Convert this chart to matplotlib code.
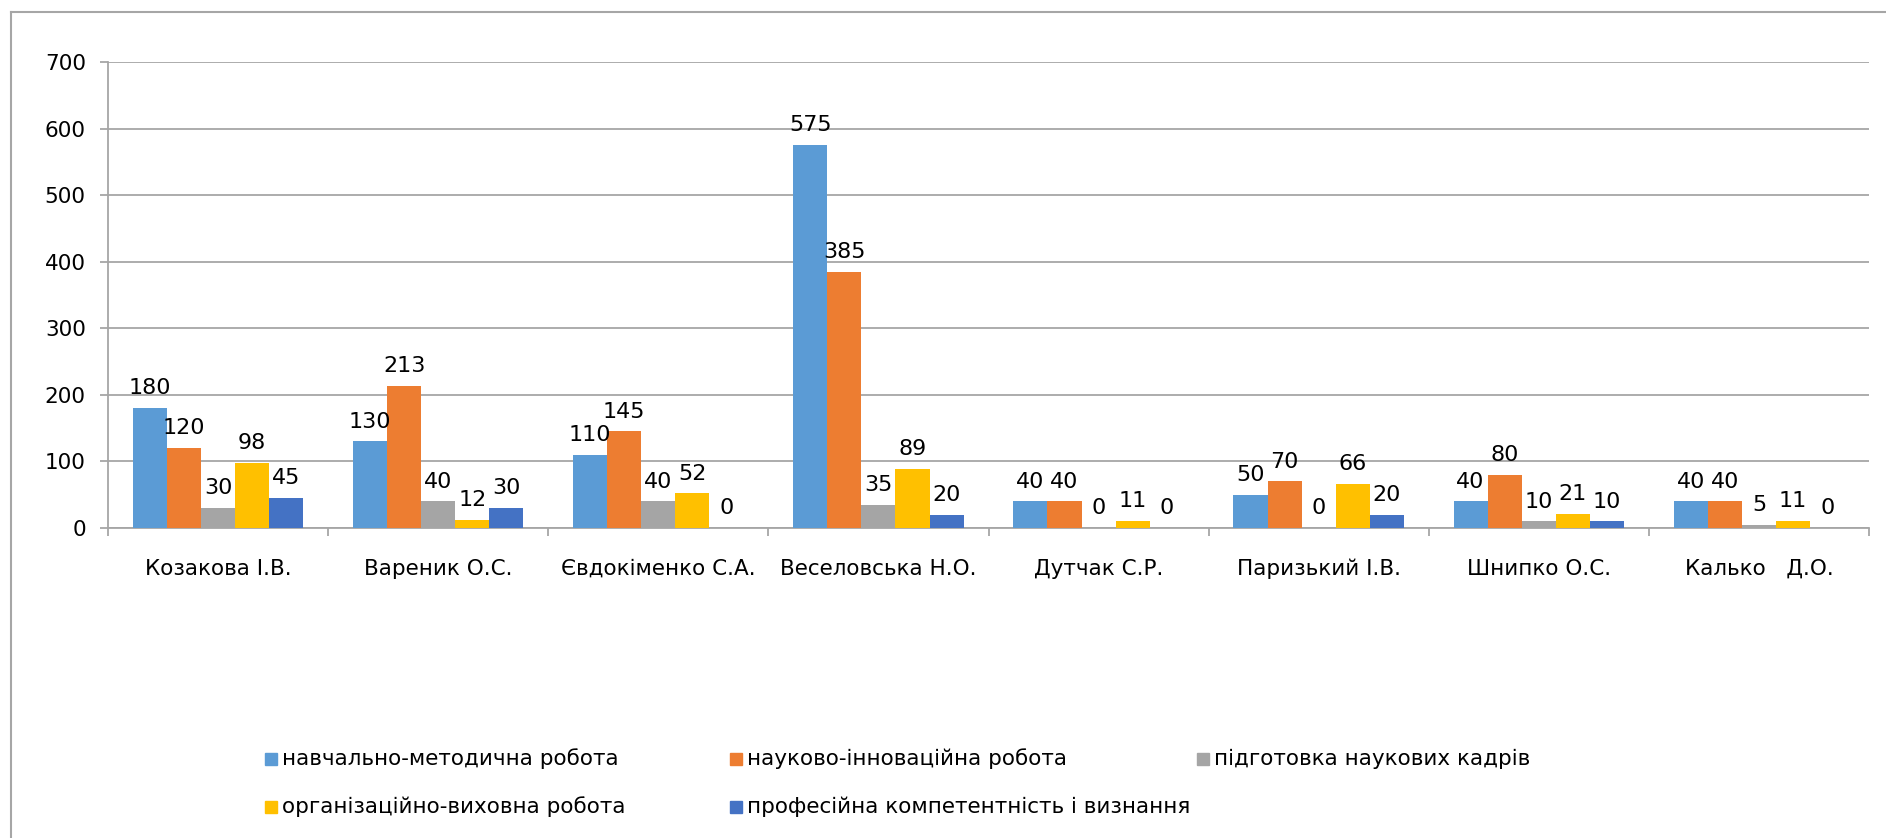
import matplotlib.pyplot as plt
from matplotlib.lines import Line2D
from matplotlib.patches import Rectangle
import numpy as np

names = ["Козакова І.В.", "Вареник О.С.", "Євдокіменко С.А.", "Веселовська Н.О.",
         "Дутчак С.Р.", "Паризький І.В.", "Шнипко О.С.", "Калько   Д.О."]
series_names = ["навчально-методична робота", "науково-інноваційна робота",
                "підготовка наукових кадрів", "організаційно-виховна робота",
                "професійна компетентність і визнання"]
nmr = [180, 130, 110, 575, 40, 50, 40, 40]
nir = [120, 213, 145, 385, 40, 70, 80, 40]
pnk = [30, 40, 40, 35, 0, 0, 10, 5]
ovr = [98, 12, 52, 89, 11, 66, 21, 11]
pkv = [45, 30, 0, 20, 0, 20, 10, 0]
colors = ["#5B9BD5", "#ED7D31", "#A5A5A5", "#FFC000", "#4472C4"]

W, H = 1886, 838
fig = plt.figure(figsize=(W / 100, H / 100), dpi=100)
ax = fig.add_axes([108 / W, 1 - 528 / H, (1869 - 108) / W, (528 - 62) / H])

grid_c = "#a6a6a6"
fs = 15.5
x = np.arange(len(names))
bw = 0.155
all_series = [nmr, nir, pnk, ovr, pkv]
for i, vals in enumerate(all_series):
    pos = x + (i - 2) * bw
    bars = ax.bar(pos, vals, width=bw, color=colors[i], zorder=3)
    for b, v in zip(bars, vals):
        ax.annotate(str(v), (b.get_x() + b.get_width() / 2, v), xytext=(0, 7),
                    textcoords="offset points", ha="center", va="bottom",
                    fontsize=16, zorder=4)

ax.set_xlim(-0.5, len(names) - 0.5)
ax.set_ylim(0, 700)
ax.set_yticks(range(0, 701, 100))
ax.yaxis.grid(True, color=grid_c, linewidth=1.3, zorder=0)
ax.tick_params(axis="y", length=6, color=grid_c, width=1.3, pad=10, labelsize=fs)

ax.set_xticks(x)
ax.set_xticklabels(names, fontsize=fs)
ax.set_xticks(np.arange(-0.5, len(names)), minor=True)
ax.tick_params(axis="x", which="major", length=0, pad=22)
ax.tick_params(axis="x", which="minor", length=6, color=grid_c, width=1.3)

for s in ["top", "right"]:
    ax.spines[s].set_visible(False)
ax.spines["left"].set_color(grid_c)
ax.spines["bottom"].set_color(grid_c)
ax.spines["left"].set_linewidth(1.3)
ax.spines["bottom"].set_linewidth(1.3)

# outer chart frame (left and top only visible)
fig.add_artist(Line2D([11 / W, 1], [1 - 12 / H, 1 - 12 / H], color=grid_c, lw=1.5))
fig.add_artist(Line2D([11 / W, 11 / W], [0, 1 - 12 / H], color=grid_c, lw=1.5))

# legend, laid out in rows like the original
leg_x = [271, 736, 1203]
leg_y = [759, 807]
for i, name in enumerate(series_names):
    col = i % 3
    row = i // 3
    px, py = leg_x[col], leg_y[row]
    fig.add_artist(Rectangle(((px - 6) / W, 1 - (py + 6) / H), 12 / W, 12 / H,
                             color=colors[i], transform=fig.transFigure))
    fig.text((px + 11) / W, 1 - py / H, name, fontsize=fs, va="center", ha="left")

fig.savefig("out.png", dpi=100)
